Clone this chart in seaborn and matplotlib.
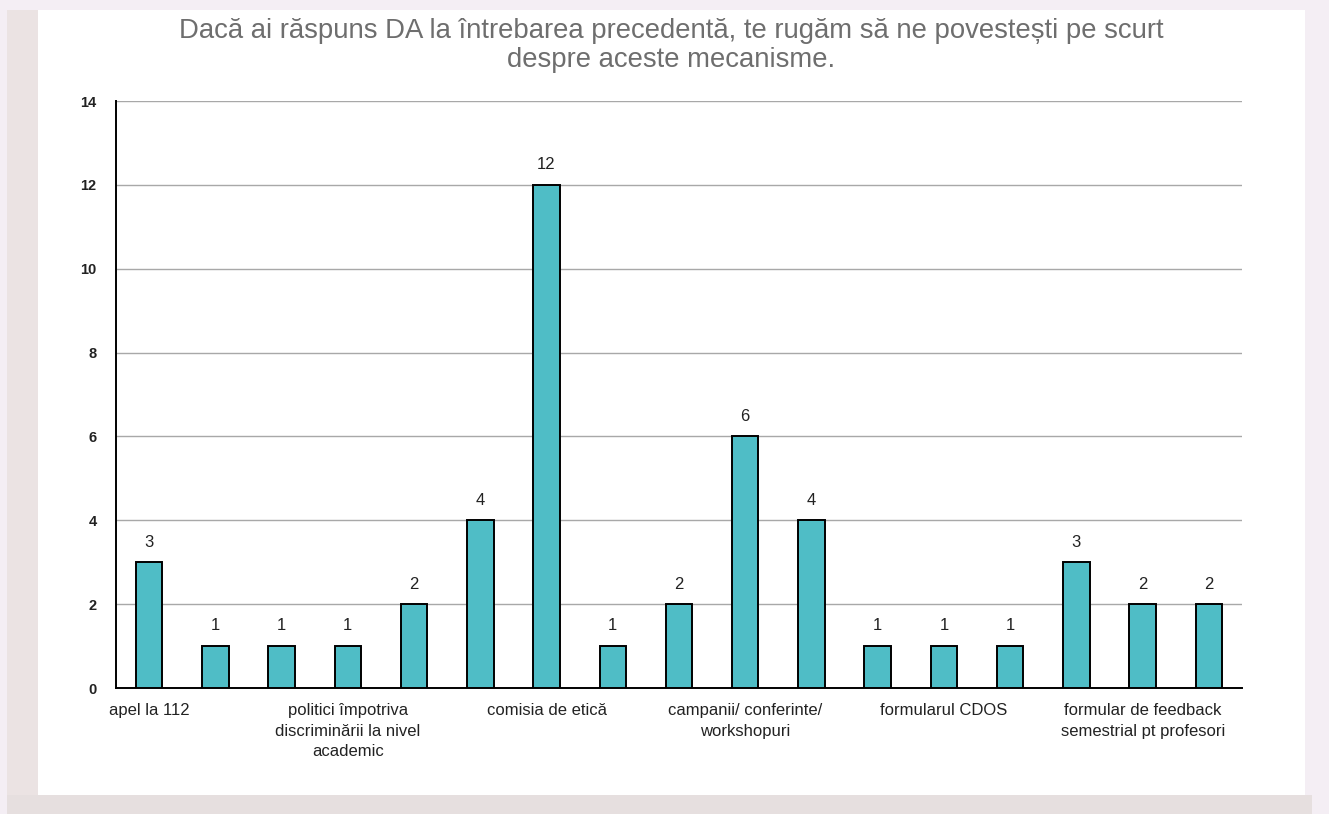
import numpy as np
import pandas as pd
import matplotlib
matplotlib.use("Agg")
import matplotlib.pyplot as plt
import seaborn as sns
from matplotlib.patches import Rectangle

# date
categories = [
    "apel la 112", "c2", "c3",
    "politici împotriva\ndiscriminării la nivel\nacademic", "c5", "c6",
    "comisia de etică", "c8", "c9",
    "campanii/ conferinte/\nworkshopuri", "c11", "c12",
    "formularul CDOS", "c14", "c15",
    "formular de feedback\nsemestrial pt profesori", "c17",
]
values = [3, 1, 1, 1, 2, 4, 12, 1, 2, 6, 4, 1, 1, 1, 3, 2, 2]
shown_labels = [0, 3, 6, 9, 12, 15]
title = ("Dacă ai răspuns DA la întrebarea precedentă, te rugăm să ne povestești pe scurt\n"
         "despre aceste mecanisme.")

df = pd.DataFrame({"cat": categories, "val": values})

sns.set_style("white")
plt.rcParams["font.family"] = ["Liberation Sans", "DejaVu Sans"]

fig = plt.figure(figsize=(13.29, 8.14), dpi=100, facecolor="#f4eef4")
W, H = 1329, 814
# fundal tip card
fig.patches.append(Rectangle((7 / W, 0), 31 / W, 1 - 10 / H, transform=fig.transFigure,
                             facecolor="#ebe3e3", edgecolor="none", zorder=-10))
fig.patches.append(Rectangle((7 / W, 0), 1305 / W, 19 / H, transform=fig.transFigure,
                             facecolor="#e6dfdf", edgecolor="none", zorder=-10))
fig.patches.append(Rectangle((38 / W, 19 / H), (1305 - 38) / W, (795 - 10) / H,
                             transform=fig.transFigure, facecolor="white", edgecolor="none", zorder=-9))

ax = fig.add_axes([116 / W, 126 / H, (1242 - 116) / W, (688 - 101) / H])
ax.set_facecolor("white")

sns.barplot(data=df, x="cat", y="val", order=categories, color="#4fbdc6",
            saturation=1, width=0.4, edgecolor="black", linewidth=1.4, ax=ax, zorder=3)

for i, v in enumerate(values):
    ax.text(i, v + 0.3, str(v), ha="center", va="bottom", fontsize=12, color="#222222")

ax.set_ylim(0, 14)
ax.set_yticks(range(0, 15, 2))
ax.yaxis.grid(True, color="#a8a8a8", linewidth=1)
ax.set_axisbelow(True)
ax.set_xlim(-0.5, len(categories) - 0.5)

# etichete doar pentru fiecare a treia categorie, ticuri la granite
ax.set_xticks(np.arange(-0.5, len(categories), 1), minor=False)
ax.set_xticklabels([])
ax.tick_params(axis="x", which="major", direction="out", length=5, width=1, color="black")
ax.set_xticks(shown_labels, minor=True)
ax.set_xticklabels([categories[i] for i in shown_labels], minor=True, fontsize=12,
                   color="#222222", linespacing=1.45)
ax.tick_params(axis="x", which="minor", length=0, pad=11)
ax.tick_params(axis="y", direction="out", length=4, width=1, color="black",
               labelsize=10.5, labelcolor="#222222", pad=10)
for lbl in ax.get_yticklabels():
    lbl.set_fontweight("bold")

ax.set_xlabel("")
ax.set_ylabel("")
for s in ["top", "right"]:
    ax.spines[s].set_visible(False)
for s in ["left", "bottom"]:
    ax.spines[s].set_color("black")
    ax.spines[s].set_linewidth(1.4)

fig.text(671 / W, 1 - 18 / H, title, ha="center", va="top", fontsize=19.8,
         color="#6e6e6e", linespacing=1.15)

fig.savefig("out.png", dpi=100, facecolor=fig.get_facecolor())
